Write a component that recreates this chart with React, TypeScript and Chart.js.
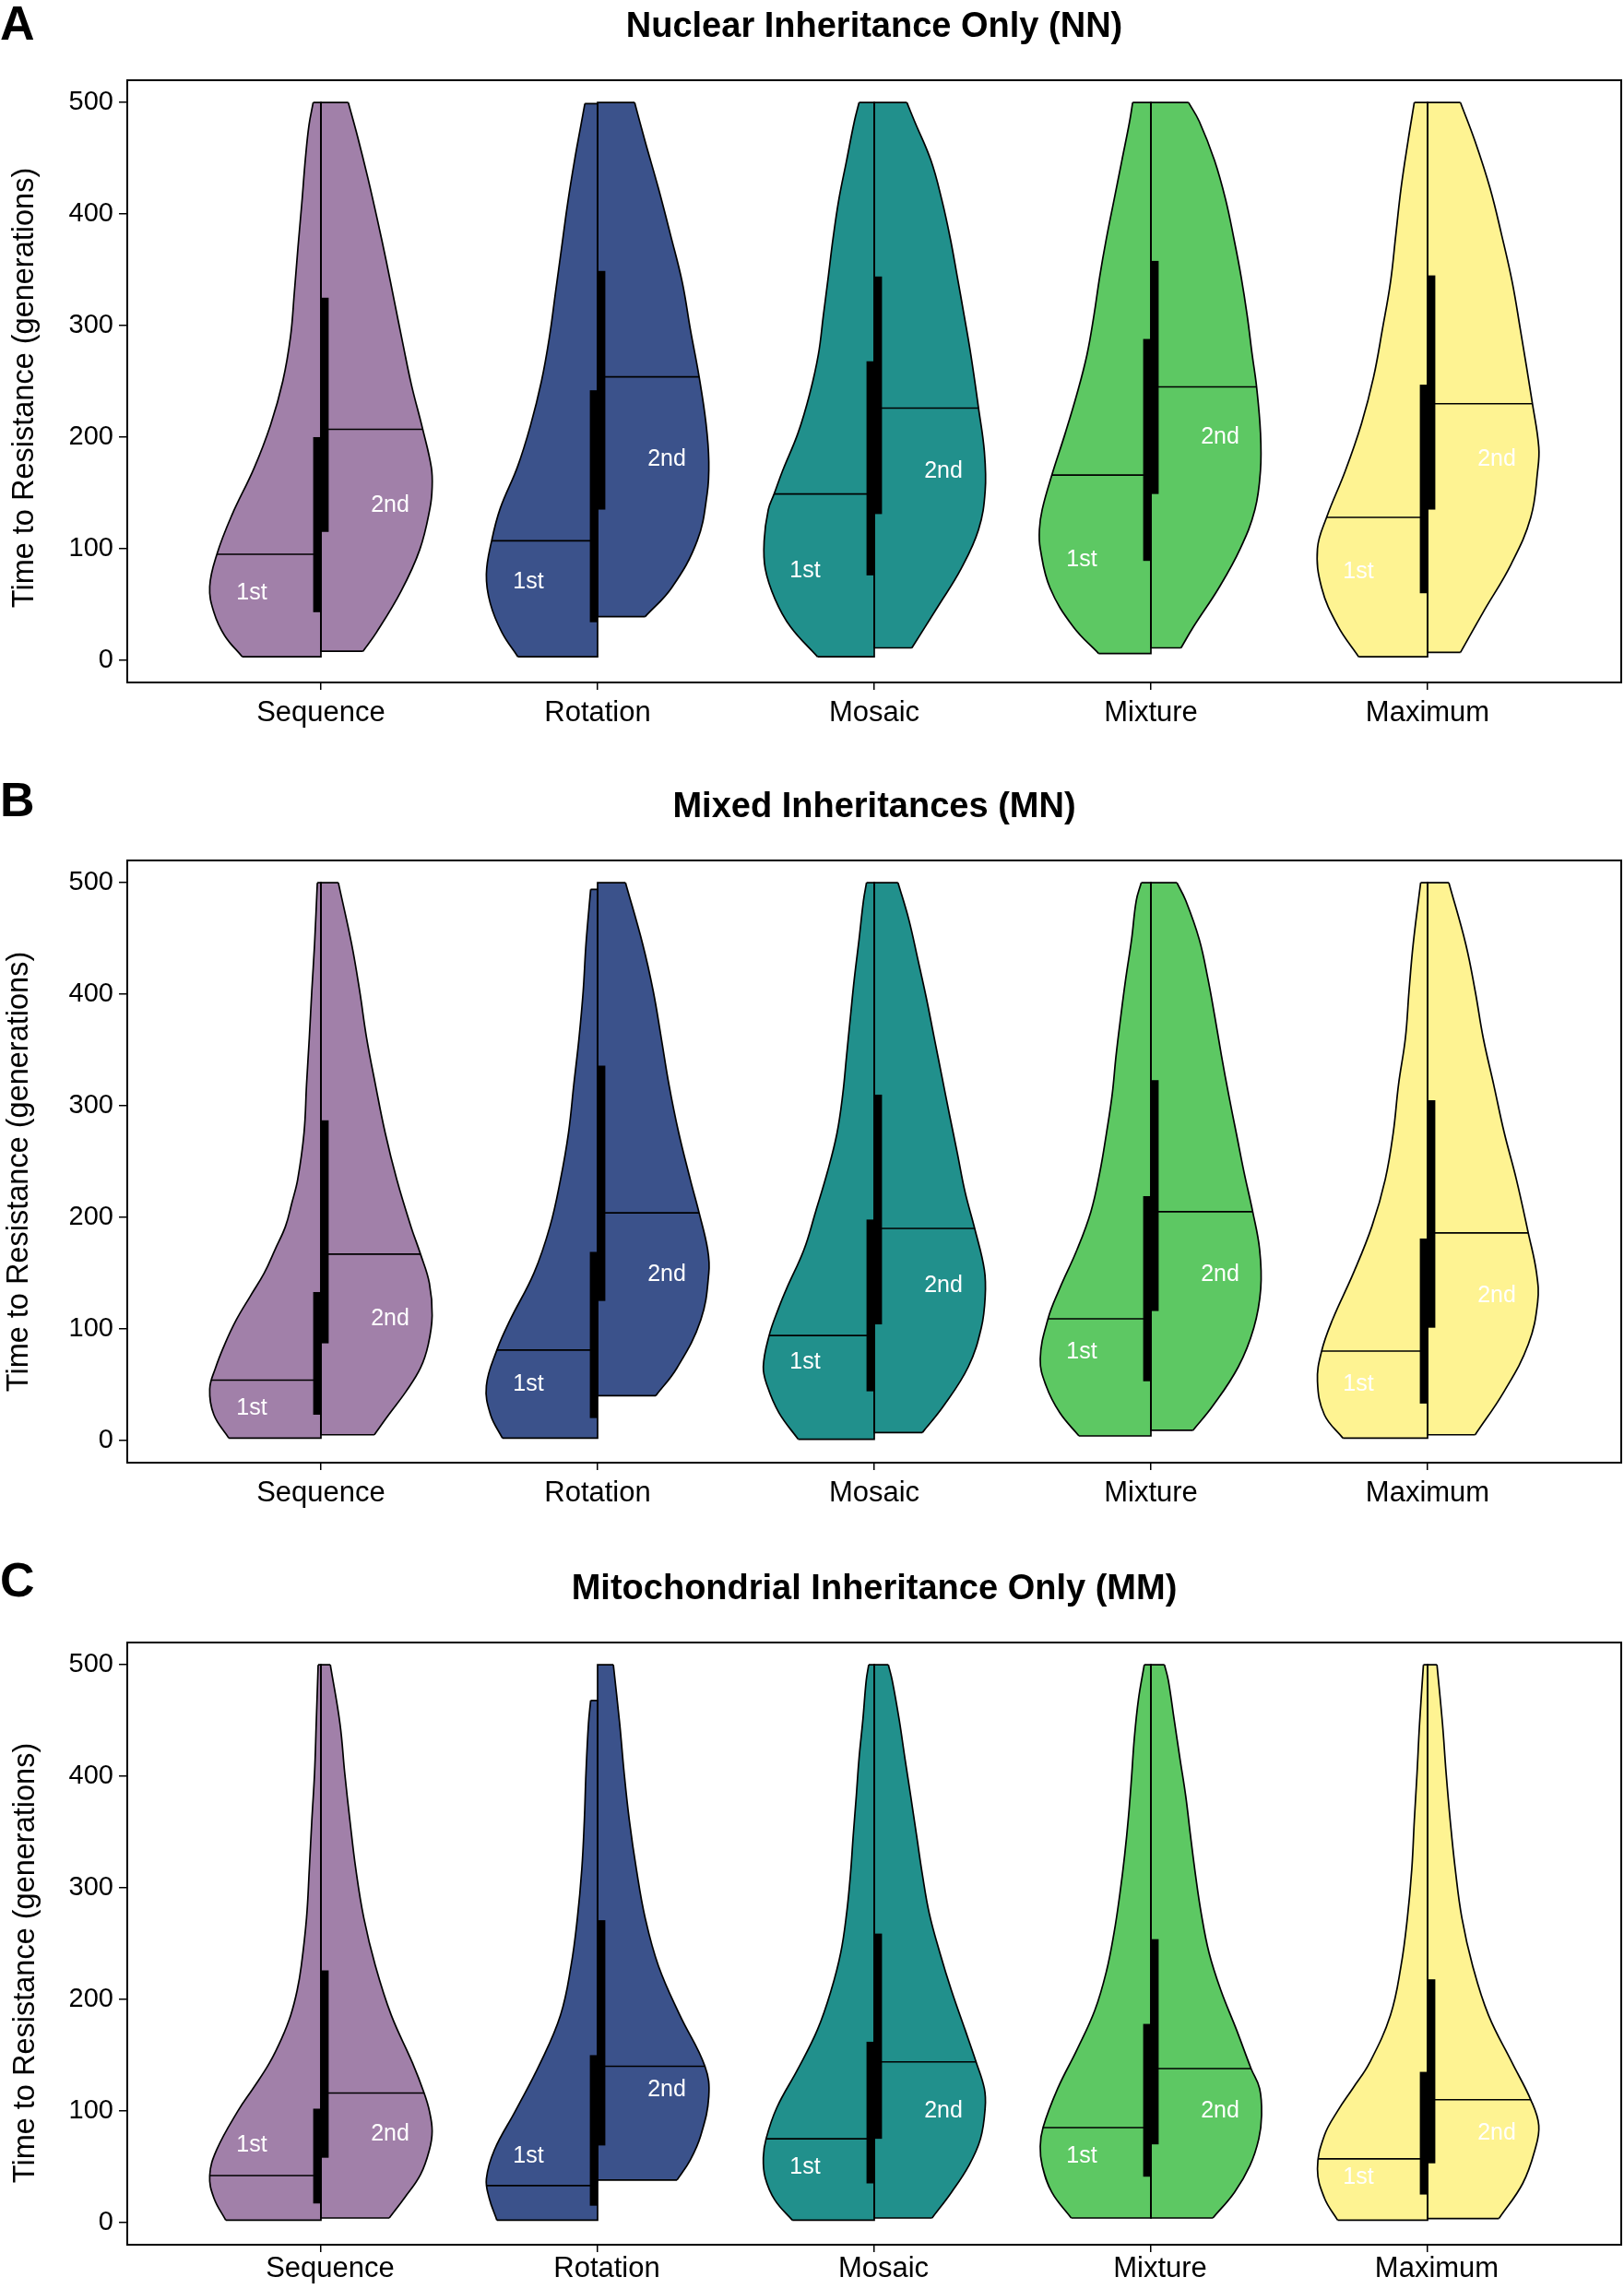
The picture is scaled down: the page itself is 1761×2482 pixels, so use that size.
import React, { useEffect, useRef } from 'react';
import { Chart, registerables } from 'chart.js';

Chart.register(...registerables);

type HalfPoint = [number, number]; // [generations, half-width in category units]

const FONT = '"Liberation Sans", Arial, Helvetica, sans-serif';

const CATEGORIES = ['Sequence', 'Rotation', 'Mosaic', 'Mixture', 'Maximum'];
const CATEGORY_POSITIONS = [1, 2, 3, 4, 5];
const Y_TICKS = [0, 100, 200, 300, 400, 500];
const HALF_LABELS = ['1st', '2nd'];
const PANEL_LETTERS = ['A', 'B', 'C'];
const PANEL_TITLES = [
  'Nuclear Inheritance Only (NN)',
  'Mixed Inheritances (MN)',
  'Mitochondrial Inheritance Only (MM)',
];
const Y_TITLE = 'Time to Resistance (generations)';
const FILLS = ['#A180A9', '#3B528B', '#21908C', '#5DC863', '#FEF392'];

// ---------- Panel A : NN ----------
const NN_FIRST: HalfPoint[][] = [
  [[3,.284],[22,.348],[43,.387],[66,.402],[95,.376],[130,.322],[172,.242],[211,.182],[250,.138],[290,.11],[330,.096],[370,.083],[410,.069],[450,.056],[480,.043],[500,.028]],
  [[3,.288],[25,.346],[51,.388],[77,.402],[107,.383],[136,.352],[173,.29],[210,.243],[250,.203],[290,.174],[330,.152],[370,.13],[410,.108],[450,.082],[480,.06],[499,.046]],
  [[3,.205],[30,.303],[55,.359],[82,.394],[107,.398],[135,.383],[149,.362],[170,.331],[204,.275],[239,.233],[274,.202],[309,.184],[344,.166],[378,.149],[413,.128],[448,.1],[483,.072],[500,.055]],
  [[6,.189],[30,.281],[65,.365],[100,.4],[117,.403],[135,.393],[166,.358],[204,.309],[239,.267],[274,.231],[309,.206],[344,.185],[378,.161],[413,.133],[448,.105],[483,.077],[500,.066]],
  [[3,.249],[31,.325],[65,.383],[100,.398],[128,.365],[170,.297],[212,.239],[254,.195],[297,.163],[339,.134],[381,.115],[423,.096],[465,.071],[500,.048]],
];
const NN_SECOND: HalfPoint[][] = [
  [[8,.152],[25,.201],[62,.29],[99,.357],[136,.394],[155,.402],[173,.399],[207,.368],[247,.327],[284,.296],[321,.266],[358,.236],[395,.204],[432,.17],[469,.133],[500,.099]],
  [[39,.172],[65,.268],[107,.36],[149,.396],[178,.402],[212,.392],[254,.367],[297,.335],[339,.306],[381,.264],[423,.22],[465,.172],[500,.134]],
  [[11,.136],[48,.23],[82,.314],[117,.377],[152,.401],[187,.398],[226,.377],[274,.349],[309,.325],[344,.3],[378,.275],[413,.244],[448,.205],[483,.146],[500,.118]],
  [[11,.109],[30,.154],[65,.246],[100,.323],[135,.376],[170,.396],[204,.396],[245,.382],[274,.366],[309,.348],[344,.326],[378,.3],[413,.27],[448,.23],[483,.175],[500,.136]],
  [[7,.119],[43,.201],[86,.302],[128,.373],[170,.398],[191,.402],[230,.379],[297,.335],[339,.306],[381,.268],[423,.226],[465,.172],[500,.119]],
];
const NN_MEDIAN_1ST = [95, 107, 149, 166, 128];
const NN_Q1_1ST = [43, 34, 76, 89, 60];
const NN_Q3_1ST = [200, 242, 268, 288, 247];
const NN_LABEL_Y_1ST = [60, 70, 80, 90, 79];
const NN_MEDIAN_2ND = [207, 254, 226, 245, 230];
const NN_Q1_2ND = [115, 135, 131, 149, 135];
const NN_Q3_2ND = [325, 349, 344, 358, 345];
const NN_LABEL_Y_2ND = [139, 180, 169, 200, 180];

// ---------- Panel B : MN ----------
const MN_FIRST: HalfPoint[][] = [
  [[2,.333],[23,.387],[46,.402],[65,.381],[86,.348],[108,.306],[129,.256],[150,.205],[171,.166],[192,.128],[213,.105],[234,.084],[276,.061],[319,.052],[361,.042],[403,.033],[445,.023],[500,.013]],
  [[2,.344],[23,.387],[49,.402],[81,.364],[108,.316],[150,.23],[192,.172],[234,.134],[276,.105],[319,.086],[361,.067],[403,.052],[445,.042],[494,.025]],
  [[1,.275],[25,.345],[49,.387],[66,.401],[94,.38],[119,.345],[136,.317],[171,.254],[205,.212],[240,.17],[275,.135],[310,.114],[345,.1],[380,.086],[414,.072],[449,.055],[484,.039],[500,.028]],
  [[4,.26],[25,.33],[49,.379],[73,.4],[109,.372],[136,.33],[171,.267],[205,.217],[240,.185],[275,.161],[310,.14],[345,.126],[380,.109],[414,.091],[449,.07],[484,.053],[500,.035]],
  [[2,.306],[23,.373],[53,.398],[80,.383],[108,.344],[150,.268],[192,.201],[234,.153],[276,.124],[319,.105],[361,.08],[403,.067],[445,.052],[500,.025]],
];
const MN_SECOND: HalfPoint[][] = [
  [[5,.193],[23,.245],[44,.308],[65,.36],[86,.388],[112,.402],[141,.392],[167,.36],[192,.325],[234,.274],[276,.232],[319,.197],[361,.165],[403,.14],[445,.111],[500,.063]],
  [[40,.21],[65,.287],[108,.373],[150,.402],[171,.398],[204,.367],[234,.335],[276,.293],[319,.258],[361,.23],[403,.201],[445,.163],[500,.101]],
  [[7,.174],[31,.251],[66,.34],[101,.387],[129,.401],[153,.398],[190,.363],[223,.328],[258,.3],[292,.272],[327,.244],[362,.216],[397,.188],[432,.157],[467,.125],[500,.086]],
  [[9,.152],[31,.224],[66,.316],[101,.372],[136,.397],[171,.393],[205,.368],[240,.337],[275,.309],[310,.281],[345,.255],[380,.231],[414,.206],[449,.175],[484,.126],[500,.094]],
  [[5,.172],[44,.277],[86,.364],[124,.398],[150,.394],[186,.364],[234,.321],[276,.277],[319,.239],[361,.201],[403,.172],[445,.138],[500,.077]],
];
const MN_MEDIAN_1ST = [54, 81, 94, 109, 80];
const MN_Q1_1ST = [23, 20, 44, 53, 33];
const MN_Q3_1ST = [133, 169, 198, 219, 181];
const MN_LABEL_Y_1ST = [29, 50, 70, 79, 50];
const MN_MEDIAN_2ND = [167, 204, 190, 205, 186];
const MN_Q1_2ND = [87, 125, 104, 116, 101];
const MN_Q3_2ND = [287, 336, 310, 323, 305];
const MN_LABEL_Y_2ND = [109, 149, 139, 149, 130];

// ---------- Panel C : MM ----------
const MM_FIRST: HalfPoint[][] = [
  [[2,.344],[22,.387],[42,.402],[65,.377],[100,.3],[121,.243],[143,.186],[165,.142],[186,.109],[208,.086],[230,.071],[273,.052],[317,.042],[360,.033],[403,.023],[447,.017],[500,.01]],
  [[2,.364],[22,.392],[39,.402],[65,.373],[100,.297],[143,.207],[186,.134],[230,.096],[273,.073],[317,.057],[360,.048],[403,.042],[447,.033],[468,.025]],
  [[2,.296],[20,.359],[40,.394],[58,.401],[75,.391],[103,.352],[138,.275],[173,.205],[208,.156],[242,.121],[277,.1],[312,.086],[347,.076],[382,.065],[416,.055],[451,.041],[486,.029],[500,.02]],
  [[4,.288],[27,.358],[51,.393],[68,.4],[85,.39],[120,.337],[155,.267],[190,.203],[225,.161],[260,.133],[295,.112],[329,.095],[364,.081],[399,.07],[434,.06],[469,.045],[500,.024]],
  [[2,.325],[22,.373],[48,.398],[78,.373],[100,.325],[121,.268],[143,.21],[186,.134],[230,.096],[273,.073],[317,.057],[360,.048],[403,.038],[447,.029],[500,.015]],
];
const MM_SECOND: HalfPoint[][] = [
  [[4,.247],[22,.302],[43,.36],[65,.392],[82,.402],[100,.392],[116,.373],[143,.331],[186,.254],[230,.197],[273,.155],[317,.126],[360,.105],[403,.086],[447,.069],[500,.034]],
  [[38,.287],[56,.335],[78,.373],[113,.402],[140,.388],[186,.297],[230,.22],[273,.172],[317,.14],[360,.115],[403,.096],[447,.08],[500,.057]],
  [[4,.209],[27,.279],[51,.342],[75,.384],[103,.401],[120,.398],[144,.368],[173,.328],[208,.279],[242,.237],[277,.199],[312,.174],[347,.153],[382,.132],[416,.111],[451,.09],[486,.065],[500,.051]],
  [[4,.224],[27,.302],[51,.358],[75,.39],[96,.4],[120,.393],[138,.362],[173,.309],[208,.253],[242,.21],[277,.182],[312,.161],[347,.143],[382,.126],[416,.105],[451,.084],[486,.063],[500,.049]],
  [[3.5,.258],[35,.344],[65,.388],[87,.402],[110,.373],[143,.306],[186,.22],[230,.163],[273,.124],[317,.1],[360,.082],[403,.067],[447,.054],[500,.034]],
];
const MM_MEDIAN_1ST = [42, 33, 75, 85, 57];
const MM_Q1_1ST = [17, 15, 35, 41, 25];
const MM_Q3_1ST = [102, 150, 162, 178, 135];
const MM_LABEL_Y_1ST = [69, 59, 49, 59, 40];
const MM_MEDIAN_2ND = [116, 140, 144, 138, 110];
const MM_Q1_2ND = [58, 69, 75, 70, 53];
const MM_Q3_2ND = [226, 271, 259, 254, 218];
const MM_LABEL_Y_2ND = [79, 119, 100, 100, 80];

const PANELS = [
  {
    halves: [NN_FIRST, NN_SECOND],
    median: [NN_MEDIAN_1ST, NN_MEDIAN_2ND],
    q1: [NN_Q1_1ST, NN_Q1_2ND],
    q3: [NN_Q3_1ST, NN_Q3_2ND],
    labelY: [NN_LABEL_Y_1ST, NN_LABEL_Y_2ND],
  },
  {
    halves: [MN_FIRST, MN_SECOND],
    median: [MN_MEDIAN_1ST, MN_MEDIAN_2ND],
    q1: [MN_Q1_1ST, MN_Q1_2ND],
    q3: [MN_Q3_1ST, MN_Q3_2ND],
    labelY: [MN_LABEL_Y_1ST, MN_LABEL_Y_2ND],
  },
  {
    halves: [MM_FIRST, MM_SECOND],
    median: [MM_MEDIAN_1ST, MM_MEDIAN_2ND],
    q1: [MM_Q1_1ST, MM_Q1_2ND],
    q3: [MM_Q3_1ST, MM_Q3_2ND],
    labelY: [MM_LABEL_Y_1ST, MM_LABEL_Y_2ND],
  },
];

// ---------- layout (pixels) ----------
const CANVAS_W = 1761;
const PANEL_BOXES = [
  { top: 0, height: 846, xAxisHeight: 106, tickPad: 7, labelShift: 0, yTitleX: 27, yTitleShift: 7, letterY: 29 },
  { top: 846, height: 847, xAxisHeight: 107, tickPad: 7, labelShift: 0, yTitleX: 21, yTitleShift: 11, letterY: 25 },
  { top: 1694, height: 788, xAxisHeight: 48, tickPad: 0, labelShift: 10, yTitleX: 28, yTitleShift: 21, letterY: 23 },
];
const BAR_HALF_WIDTH = 0.028; // category units
const LABEL_OFFSET = 0.25; // category units

function Panel({ index }: { index: number }) {
  const ref = useRef<HTMLCanvasElement | null>(null);

  useEffect(() => {
    const canvas = ref.current;
    if (!canvas) return;
    const box = PANEL_BOXES[index];
    const panel = PANELS[index];

    const halves: { cat: number; side: number; median: number; q1: number; q3: number; labelY: number }[] = [];
    const datasets: any[] = [];
    panel.halves.forEach((list, side) => {
      const sign = side === 0 ? -1 : 1;
      list.forEach((pts, cat) => {
        halves.push({
          cat,
          side,
          median: panel.median[side][cat],
          q1: panel.q1[side][cat],
          q3: panel.q3[side][cat],
          labelY: panel.labelY[side][cat],
        });
        datasets.push({
          label: `${CATEGORIES[cat]} ${HALF_LABELS[side]}`,
          data: pts.map(([y, w]) => ({ x: CATEGORY_POSITIONS[cat] + sign * w, y })),
          showLine: true,
          fill: false,
          tension: 0.4,
          pointRadius: 0,
          pointHoverRadius: 0,
          pointHitRadius: 0,
          borderColor: '#000',
          borderWidth: 1.7,
          backgroundColor: FILLS[cat],
        });
      });
    });

    const buildPath = (chart: any, d: number) => {
      const pts = chart.getDatasetMeta(d).data as any[];
      const xs = chart.scales.x;
      const cx = xs.getPixelForValue(CATEGORY_POSITIONS[halves[d].cat]);
      const first = pts[0];
      const last = pts[pts.length - 1];
      const path = new Path2D();
      path.moveTo(cx, first.y);
      path.lineTo(first.x, first.y);
      for (let i = 1; i < pts.length; i++) {
        const p = pts[i - 1];
        const q = pts[i];
        if (p.cp2x !== undefined && q.cp1x !== undefined) {
          path.bezierCurveTo(p.cp2x, p.cp2y, q.cp1x, q.cp1y, q.x, q.y);
        } else {
          path.lineTo(q.x, q.y);
        }
      }
      path.lineTo(cx, last.y);
      path.closePath();
      return { path, cx, first, last };
    };

    const violinPlugin = {
      id: 'splitViolin',
      beforeDatasetsDraw(chart: any) {
        const { ctx } = chart;
        const ys = chart.scales.y;
        const shapes = halves.map((_, d) => buildPath(chart, d));
        shapes.forEach((s, d) => {
          const h = halves[d];
          ctx.save();
          ctx.fillStyle = FILLS[h.cat];
          ctx.fill(s.path);
          ctx.clip(s.path);
          const my = ys.getPixelForValue(h.median);
          ctx.beginPath();
          ctx.moveTo(s.cx - 300, my);
          ctx.lineTo(s.cx + 300, my);
          ctx.lineWidth = 1.6;
          ctx.strokeStyle = '#000';
          ctx.stroke();
          ctx.restore();
        });
        shapes.forEach((s) => {
          ctx.save();
          ctx.beginPath();
          ctx.moveTo(s.first.x, s.first.y);
          ctx.lineTo(s.cx, s.first.y);
          ctx.lineTo(s.cx, s.last.y);
          ctx.lineTo(s.last.x, s.last.y);
          ctx.lineWidth = 1.7;
          ctx.strokeStyle = '#000';
          ctx.stroke();
          ctx.restore();
        });
      },
      afterDatasetsDraw(chart: any) {
        const { ctx, chartArea } = chart;
        const xs = chart.scales.x;
        const ys = chart.scales.y;
        ctx.save();
        // IQR bars
        halves.forEach((h) => {
          const c = CATEGORY_POSITIONS[h.cat];
          const xa = xs.getPixelForValue(h.side === 0 ? c - BAR_HALF_WIDTH : c);
          const xb = xs.getPixelForValue(h.side === 0 ? c : c + BAR_HALF_WIDTH);
          const ya = ys.getPixelForValue(h.q3);
          const yb = ys.getPixelForValue(h.q1);
          ctx.fillStyle = '#000';
          ctx.fillRect(xa, ya, xb - xa, yb - ya);
        });
        // half labels
        ctx.fillStyle = '#fff';
        ctx.font = `25px ${FONT}`;
        ctx.textAlign = 'center';
        ctx.textBaseline = 'middle';
        halves.forEach((h) => {
          const c = CATEGORY_POSITIONS[h.cat];
          const x = xs.getPixelForValue(h.side === 0 ? c - LABEL_OFFSET : c + LABEL_OFFSET);
          ctx.fillText(HALF_LABELS[h.side], x, ys.getPixelForValue(h.labelY));
        });
        // panel frame
        ctx.strokeStyle = '#000';
        ctx.lineWidth = 2;
        ctx.strokeRect(chartArea.left, chartArea.top, chartArea.right - chartArea.left, chartArea.bottom - chartArea.top);
        // panel letter
        ctx.fillStyle = '#000';
        ctx.font = `bold 52px ${FONT}`;
        ctx.textAlign = 'left';
        ctx.textBaseline = 'middle';
        ctx.fillText(PANEL_LETTERS[index], 0, box.letterY);
        // y-axis title
        ctx.font = `32.5px ${FONT}`;
        ctx.textAlign = 'center';
        ctx.translate(box.yTitleX, (chartArea.top + chartArea.bottom) / 2 + box.yTitleShift);
        ctx.rotate(-Math.PI / 2);
        ctx.fillText(Y_TITLE, 0, 0);
        ctx.restore();
      },
    };

    const tickGrid = (len: number) => ({
      display: true,
      drawOnChartArea: false,
      drawTicks: true,
      tickLength: len,
      tickColor: '#000',
      tickWidth: 1.5,
      color: '#000',
      lineWidth: 1.5,
    });

    const chart = new Chart(canvas, {
      type: 'scatter',
      data: { datasets },
      plugins: [violinPlugin],
      options: {
        responsive: false,
        maintainAspectRatio: false,
        animation: false,
        events: [],
        layout: { padding: { left: 0, right: 3, top: 0, bottom: 0 } },
        plugins: {
          legend: { display: false },
          tooltip: { enabled: false },
          title: {
            display: true,
            text: PANEL_TITLES[index],
            fullSize: false,
            color: '#000',
            font: { family: FONT, size: 38, weight: 'bold', lineHeight: 1.2 },
            padding: { top: 6.5, bottom: 34.9 },
          },
        },
        scales: {
          x: {
            type: 'linear',
            min: 0.3,
            max: 5.7,
            bounds: 'data',
            afterBuildTicks: (s: any) => {
              s.ticks = CATEGORY_POSITIONS.map((v) => ({ value: v }));
            },
            afterFit: (s: any) => {
              s.height = box.xAxisHeight;
            },
            ticks: {
              callback: (_v: any, i: number) => CATEGORIES[i],
              font: { family: FONT, size: 31 },
              color: '#000',
              padding: box.tickPad,
              labelOffset: box.labelShift,
              maxRotation: 0,
              autoSkip: false,
            },
            grid: tickGrid(8),
            border: { display: false },
          },
          y: {
            type: 'linear',
            min: -20,
            max: 520,
            bounds: 'data',
            afterBuildTicks: (s: any) => {
              s.ticks = Y_TICKS.map((v) => ({ value: v }));
            },
            afterFit: (s: any) => {
              s.width = 138;
            },
            ticks: {
              callback: (v: any) => String(v),
              font: { family: FONT, size: 29 },
              color: '#000',
              padding: 6,
            },
            grid: tickGrid(9),
            border: { display: false },
          },
        },
      } as any,
    });

    return () => chart.destroy();
  }, [index]);

  const box = PANEL_BOXES[index];
  return (
    <canvas
      ref={ref}
      width={CANVAS_W}
      height={box.height}
      style={{ position: 'absolute', left: 0, top: box.top, width: CANVAS_W, height: box.height, display: 'block' }}
    />
  );
}

export default function App() {
  return (
    <div style={{ position: 'absolute', left: 0, top: 0, width: CANVAS_W, height: 2482, background: '#fff', overflow: 'hidden' }}>
      {PANEL_BOXES.map((_, i) => (
        <Panel key={i} index={i} />
      ))}
    </div>
  );
}
